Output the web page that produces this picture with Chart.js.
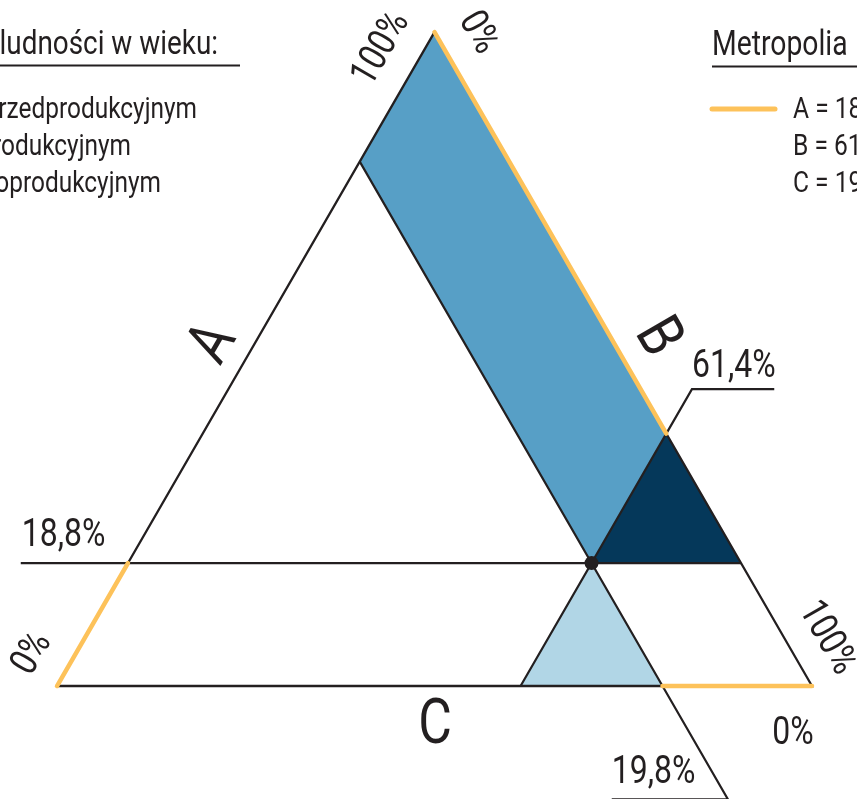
<!DOCTYPE html>
<html><head><meta charset="utf-8">
<style>html,body{margin:0;padding:0;background:#fff;overflow:hidden}canvas{display:block}</style>
<script src="https://cdn.jsdelivr.net/npm/chart.js@4.4.0/dist/chart.umd.min.js"></script>
</head><body>
<canvas id="c" width="857" height="799"></canvas>
<script>
// ---- data ----
const components = ['A', 'B', 'C'];
const componentNames = ['przedprodukcyjnym', 'produkcyjnym', 'poprodukcyjnym'];
const values = [18.8, 61.4, 19.8];          // A, B, C  (% of population)
const axisTickLabels = ['0%', '100%'];
const legendTitle = 'Udział ludności w wieku:';
const seriesName = 'Metropolia';

// ---- style ----
const INK = '#231f20', YELLOW = '#fdc25a';
const BLUE = '#579fc6', NAVY = '#05385a', LIGHT = '#b1d6e6';
const SX = 0.82; // condensed font emulation
const VIEW = {xmin: -57/755, xmax: 800/755, ymin: -113/755, ymax: 686/755};
const H = Math.sqrt(3) / 2;
const fmt = v => v.toFixed(1).replace('.', ',') + '%';

// ternary (a,b fractions; c implicit) -> cartesian
const tern = (a, b) => ({x: 0.5 * a + b, y: H * a});
const fa = values[0] / 100, fb = values[1] / 100, fc = values[2] / 100;

const T = tern(1, 0), Lv = tern(0, 0), Rv = tern(0, 1);
const P = tern(fa, fb);
const aLeft = tern(fa, 0), aRight = tern(fa, 1 - fa);
const bTop = tern(1 - fb, fb), bBot = tern(0, fb);
const cTop = tern(1 - fc, 0), cBot = tern(0, 1 - fc);
// leader lines (layout offsets)
const aLead = {x: aLeft.x - 0.142, y: aLeft.y};
const bLead1 = tern(1 - fb + 0.068, fb);
const bLead2 = {x: bLead1.x + 0.109, y: bLead1.y};
const tC = -(VIEW.ymin - 0.0006) / H;
const cLead1 = tern(-tC, 1 - fc + tC);
const cLead2 = {x: cLead1.x - 0.154, y: cLead1.y};

const poly = (pts, color, order) => ({data: pts, showLine: true, fill: 'shape', backgroundColor: color,
  borderWidth: 0, pointRadius: 0, order});
const line = (pts, color, w, order, cap) => ({data: pts, showLine: true, fill: false, borderColor: color,
  borderWidth: w, pointRadius: 0, borderCapStyle: cap || 'butt', borderJoinStyle: 'miter', order});

const datasets = [
  {data: [P], pointRadius: 7, pointBackgroundColor: INK, pointBorderWidth: 0, showLine: false, order: 0},
  line([Lv, aLeft], YELLOW, 4.5, 1, 'round'),
  line([T, bTop], YELLOW, 4.5, 1, 'round'),
  line([cBot, Rv], YELLOW, 4.5, 1, 'round'),
  line([Lv, Rv, T, Lv], INK, 2.3, 2),
  line([aLead, aLeft, aRight], INK, 2.2, 2),
  line([bBot, bTop, bLead1, bLead2], INK, 2.2, 2),
  line([cTop, cBot, cLead1, cLead2], INK, 2.2, 2),
  poly([T, bTop, P, cTop, T], BLUE, 3),
  poly([bTop, aRight, P, bTop], NAVY, 3),
  poly([P, cBot, bBot, P], LIGHT, 3)
];

function txt(ctx, s, x, y, o) {
  const size = o.size, rot = o.rot || 0;
  ctx.save();
  ctx.translate(x, y);
  ctx.rotate(rot * Math.PI / 180);
  ctx.scale(SX, 1);
  ctx.font = `400 ${size}px Roboto`;
  ctx.fillStyle = INK;
  ctx.textBaseline = 'alphabetic';
  if (o.center) { ctx.textAlign = 'center'; ctx.fillText(s, 0, 0.355 * size); }
  else { ctx.textAlign = o.align || 'left'; ctx.fillText(s, 0, 0); }
  ctx.restore();
}
function hline(ctx, x1, x2, y, color, w, cap) {
  ctx.save(); ctx.strokeStyle = color; ctx.lineWidth = w; ctx.lineCap = cap || 'butt';
  ctx.beginPath(); ctx.moveTo(x1, y); ctx.lineTo(x2, y); ctx.stroke(); ctx.restore();
}

const labelsPlugin = {
  id: 'labels',
  afterDraw(chart) {
    const ctx = chart.ctx, xs = chart.scales.x, ys = chart.scales.y;
    const px = p => [xs.getPixelForValue(p.x), ys.getPixelForValue(p.y)];
    // left legend
    txt(ctx, legendTitle, 218, 54, {size: 34, align: 'right'});
    hline(ctx, 0, 240, 65.5, INK, 2);
    const rowEnds = [197, 131, 161];
    componentNames.forEach((n, i) => txt(ctx, components[i] + ' – ' + n, rowEnds[i], 118 + 37 * i, {size: 29.8, align: 'right'}));
    // right legend
    txt(ctx, seriesName, 712, 55, {size: 34.5});
    hline(ctx, 712, 857, 66.5, INK, 2);
    hline(ctx, 712, 775, 109, YELLOW, 5, 'round');
    components.forEach((c, i) => txt(ctx, `${c} = ${fmt(values[i])}`, 793, 118 + 37 * i, {size: 30}));
    // axis letters
    txt(ctx, components[0], 209, 341, {size: 63, rot: -60, center: true});
    txt(ctx, components[1], 662, 335, {size: 63, rot: 60, center: true});
    txt(ctx, components[2], 435, 721, {size: 63, center: true});
    // axis ends
    txt(ctx, axisTickLabels[1], 378, 47, {size: 39, rot: -60, center: true});
    txt(ctx, axisTickLabels[0], 29, 652, {size: 39, rot: -60, center: true});
    txt(ctx, axisTickLabels[0], 481, 31, {size: 39, rot: 60, center: true});
    txt(ctx, axisTickLabels[1], 830, 636, {size: 39, rot: 60, center: true});
    txt(ctx, axisTickLabels[0], 793, 730, {size: 39, center: true});
    // value labels on leaders
    const [ax, ay] = px(aLead);
    txt(ctx, fmt(values[0]), ax + 1, ay - 17, {size: 39});
    const [bx, by] = px(bLead1);
    txt(ctx, fmt(values[1]), bx, by - 12, {size: 39});
    const [cx, cy] = px(cLead2);
    txt(ctx, fmt(values[2]), cx, cy - 16, {size: 39});
  }
};

new Chart(document.getElementById('c'), {
  type: 'scatter',
  data: {datasets},
  options: {
    responsive: false, animation: false, devicePixelRatio: 1,
    layout: {padding: 0, autoPadding: false},
    scales: {
      x: {type: 'linear', min: VIEW.xmin, max: VIEW.xmax, bounds: 'data', display: false},
      y: {type: 'linear', min: VIEW.ymin, max: VIEW.ymax, bounds: 'data', display: false}
    },
    plugins: {legend: {display: false}, tooltip: {enabled: false}}
  },
  plugins: [labelsPlugin]
});
</script>
</body></html>
